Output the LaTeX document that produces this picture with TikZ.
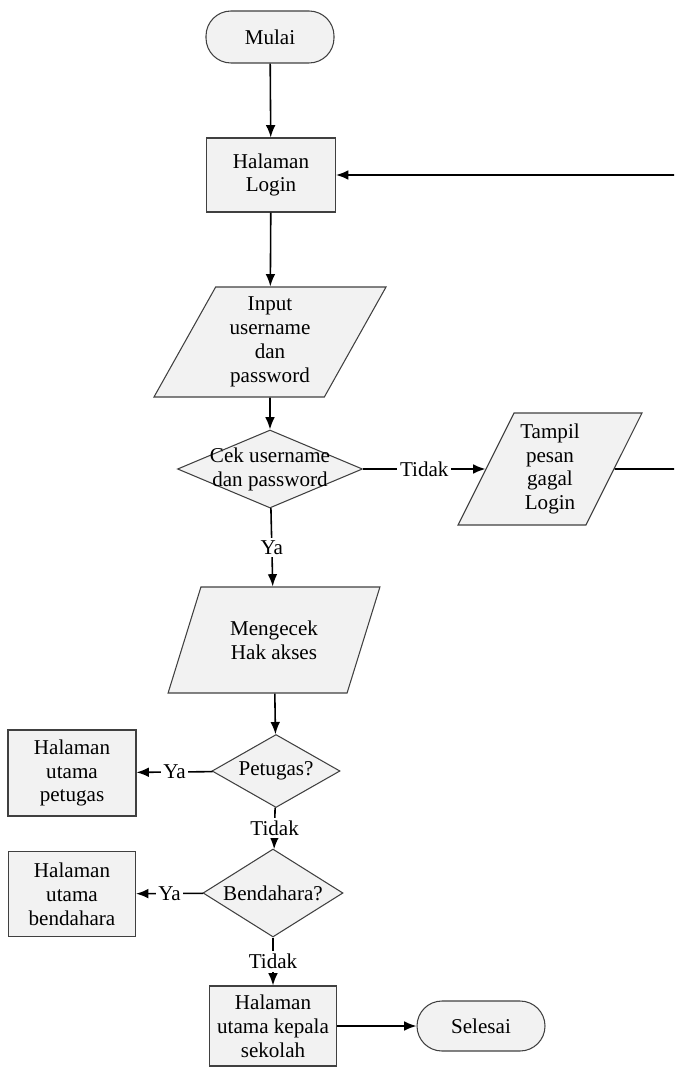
\documentclass[tikz,border=0pt]{standalone}
\usepackage{fontspec}
\setmainfont{Liberation Serif}
\usetikzlibrary{shapes.geometric,arrows.meta}

\begin{document}
\begin{tikzpicture}[
    font=\fontsize{12}{13.6}\selectfont,
    shapeline/.style={draw=black!75, line width=0.6pt, fill=black!5},
    terminal/.style={shapeline, rectangle, rounded corners=0.5cm,
        minimum width=2.56cm, minimum height=1.04cm, inner sep=0pt},
    process/.style={shapeline, rectangle, align=center, inner sep=0pt},
    io/.style={shapeline, trapezium, trapezium left angle=63,
        trapezium right angle=117, trapezium stretches=true,
        align=center, inner sep=0pt},
    decision/.style={shapeline, diamond, inner sep=0pt},
    dtext/.style={align=center, inner sep=0pt},
    flow/.style={line width=0.9pt, -{Latex[length=7pt,width=5.5pt]}},
    plain/.style={line width=0.9pt},
    lbl/.style={fill=white, inner sep=1.5pt}
]
\useasboundingbox (0,0) rectangle (13.48,-21.4);
\clip (0,0) rectangle (13.48,-21.4);

% main column
\node[terminal] (mulai) at (5.40,-0.74) {Mulai};
\node[process, minimum width=2.58cm, minimum height=1.48cm] (login) at (5.42,-3.50) {Halaman\\Login};
\node[io, minimum width=4.68cm, minimum height=2.20cm] (input) at (5.40,-6.84) {Input\\username\\dan\\password};
\node[decision, minimum width=3.70cm, minimum height=1.56cm] (cek) at (5.40,-9.38) {};
\node[dtext] (cekt) at (cek) {Cek username\\dan password};
\node[io, minimum width=3.70cm, minimum height=2.24cm] (tampil) at (11.00,-9.38) {Tampil\\pesan\\gagal\\Login};
\node[io, minimum width=4.24cm, minimum height=2.12cm] (cekhak) at (5.48,-12.80) {Mengecek\\Hak akses};

% role checks
\node[decision, minimum width=2.56cm, minimum height=1.46cm] (petugas) at (5.52,-15.42) {};
\node[dtext] (petugast) at (petugas) {Petugas?};
\node[process, minimum width=2.56cm, minimum height=1.72cm] (hpetugas) at (1.44,-15.46) {Halaman\\utama\\petugas};
\node[decision, minimum width=2.80cm, minimum height=1.76cm] (bendahara) at (5.46,-17.86) {};
\node[dtext] (bendaharat) at (bendahara) {Bendahara?};
\node[process, minimum width=2.54cm, minimum height=1.70cm] (hbendahara) at (1.44,-17.88) {Halaman\\utama\\bendahara};
\node[process, minimum width=2.54cm, minimum height=1.60cm] (kepala) at (5.46,-20.52) {Halaman\\utama kepala\\sekolah};
\node[terminal, minimum height=1.00cm] (selesai) at (9.62,-20.52) {Selesai};

% return path for a failed login
\coordinate (rtop) at (13.55,-3.50);
\coordinate (rbot) at (13.55,-9.38);

% connectors
\draw[flow] (mulai) -- (login);
\draw[flow] (login) -- (input);
\draw[flow] (input) -- (cek);
\draw[flow] (cek) -- node[lbl] (tidak0) {Tidak} (tampil);
\draw[plain] (tampil.east) -- (rbot) -- (rtop);
\draw[flow] (rtop) -- (login.east);
\draw[flow] (cek) -- node[lbl] (ya0) {Ya} (cekhak);
\draw[flow] (cekhak) -- (petugas);
\draw[flow] (petugas) -- node[lbl] (ya1) {Ya} (hpetugas);
\draw[flow] (petugas) -- node[lbl] (tidak1) {Tidak} (bendahara);
\draw[flow] (bendahara) -- node[lbl] (ya2) {Ya} (hbendahara);
\draw[flow] (bendahara) -- node[lbl] (tidak2) {Tidak} (kepala);
\draw[flow] (kepala) -- (selesai);
\end{tikzpicture}
\end{document}
